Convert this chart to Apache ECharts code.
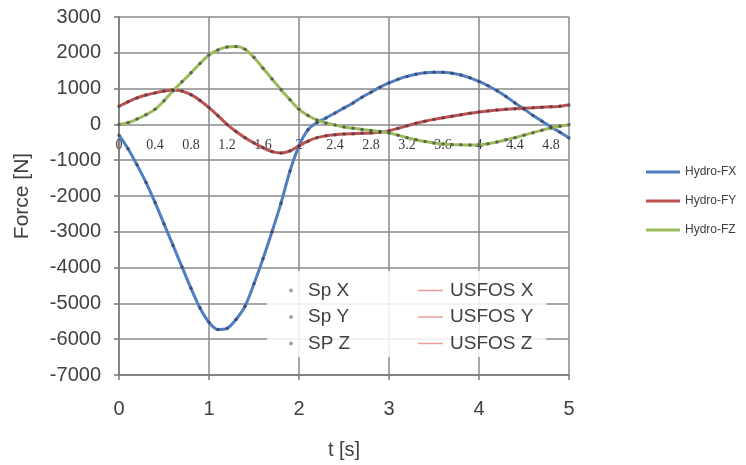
<!DOCTYPE html>
<html>
<head>
<meta charset="utf-8">
<script src="https://cdn.jsdelivr.net/npm/echarts@6/dist/echarts.min.js"></script>
<style>
  html, body { margin: 0; padding: 0; background: #ffffff; }
  #chart { width: 746px; height: 465px; }
</style>
</head>
<body>
<div id="chart"></div>
<script>
// Time samples [s]
const times = [
  0.0, 0.1, 0.2, 0.3, 0.4, 0.5, 0.6, 0.7, 0.8, 0.9,
  1.0, 1.1, 1.2, 1.3, 1.4, 1.5, 1.6, 1.7, 1.8, 1.9,
  2.0, 2.1, 2.2, 2.3, 2.4, 2.5, 2.6, 2.7, 2.8, 2.9,
  3.0, 3.1, 3.2, 3.3, 3.4, 3.5, 3.6, 3.7, 3.8, 3.9,
  4.0, 4.1, 4.2, 4.3, 4.4, 4.5, 4.6, 4.7, 4.8, 4.9,
  5.0
];

// Hydrodynamic force components [N]
const hydroFX = [
  -300, -680, -1130, -1620, -2180, -2780, -3380, -3980, -4580, -5130,
  -5530, -5730, -5700, -5450, -5080, -4450, -3750, -3000, -2200, -1300,
  -600, -150, 50, 180, 320, 460, 600, 760, 900, 1040,
  1160, 1260, 1340, 1400, 1440, 1460, 1460, 1430, 1380, 1300,
  1200, 1080, 940, 780, 600, 430, 250, 90, -70, -220,
  -380
];
const hydroFY = [
  510, 630, 740, 820, 880, 930, 960, 930, 830, 670,
  470, 240, 0, -200, -370, -520, -650, -760, -800, -740,
  -600, -470, -370, -320, -290, -270, -260, -250, -240, -220,
  -180, -110, -40, 30, 90, 140, 185, 230, 270, 310,
  345, 375, 400, 420, 435, 450, 465, 480, 490, 510,
  540
];
const hydroFZ = [
  0, 50, 150, 270, 420, 660, 940, 1190, 1440, 1700,
  1940, 2080, 2160, 2175, 2100, 1870, 1570, 1270, 970, 690,
  420, 250, 120, 40, -20, -70, -110, -140, -170, -200,
  -240, -300, -370, -430, -480, -520, -545, -560, -570, -575,
  -570, -540, -490, -430, -370, -300, -230, -160, -100, -50,
  -10
];

// Axis settings
const forceMin = -7000, forceMax = 3000, forceStep = 1000;
const timeMin = 0, timeMax = 5, timeStep = 1, timeStepFine = 0.4;

const seriesNamesHydro = ['Hydro-FX', 'Hydro-FY', 'Hydro-FZ'];
const seriesNamesSp = ['Sp X', 'Sp Y', 'SP Z'];
const seriesNamesUsfos = ['USFOS X', 'USFOS Y', 'USFOS Z'];
const hydroColors = ['#4f7fc0', '#c0504d', '#9bbb59'];

const pairs = vals => vals.map((v, i) => [times[i], v]);
const hydroData = [hydroFX, hydroFY, hydroFZ];

const FONT = 'Liberation Sans, Arial, sans-serif';
const gridColor = '#8a8a8a';

// Plot rectangle
const gridLeft = 119, gridTop = 17, gridW = 450, gridH = 360;
// Shift of the fine time axis from the bottom edge up to the zero force line
const zeroLineShift = -gridH * (0 - forceMin) / (forceMax - forceMin);

const series = [];
// USFOS reference curves (thin, underneath)
seriesNamesUsfos.forEach((name, k) => {
  series.push({
    name, type: 'line', xAxisIndex: 0, yAxisIndex: 0,
    data: pairs(hydroData[k]), symbol: 'none', smooth: 0.3,
    lineStyle: { color: '#f19c9c', width: 1 }, itemStyle: { color: '#f19c9c' },
    z: 2, animation: false
  });
});
// Hydro curves
seriesNamesHydro.forEach((name, k) => {
  series.push({
    name, type: 'line', xAxisIndex: 0, yAxisIndex: 0,
    data: pairs(hydroData[k]), symbol: 'none', smooth: 0.3,
    lineStyle: { color: hydroColors[k], width: 3 }, itemStyle: { color: hydroColors[k] },
    z: 3, animation: false
  });
});
// Sp point markers
seriesNamesSp.forEach((name, k) => {
  series.push({
    name, type: 'scatter', xAxisIndex: 0, yAxisIndex: 0,
    data: pairs(hydroData[k]), symbol: 'circle', symbolSize: 3.5,
    itemStyle: { color: 'rgba(50,50,75,0.8)' },
    z: 4, animation: false
  });
});

const chart = echarts.init(document.getElementById('chart'), null, { renderer: 'canvas' });
chart.setOption({
  backgroundColor: '#ffffff',
  animation: false,
  grid: { left: gridLeft, top: gridTop, width: gridW, height: gridH, containLabel: false },
  xAxis: [
    {
      type: 'value', min: timeMin, max: timeMax, interval: timeStep, position: 'bottom',
      name: 't [s]', nameLocation: 'middle', nameGap: 65,
      nameTextStyle: { fontFamily: FONT, fontSize: 20, color: '#404040' },
      axisLine: { onZero: false, lineStyle: { color: '#7a7a7a', width: 1.5 } },
      axisTick: { show: true, length: 5, lineStyle: { color: '#7a7a7a', width: 1.5 } },
      axisLabel: { fontFamily: FONT, fontSize: 20, color: '#404040', margin: 24 },
      splitLine: { show: true, lineStyle: { color: gridColor, width: 1.5 } }
    },
    {
      type: 'value', min: timeMin, max: timeMax, interval: timeStepFine, position: 'bottom',
      offset: zeroLineShift,
      axisLine: { show: false, onZero: false },
      axisTick: { show: false },
      axisLabel: {
        fontFamily: 'Liberation Serif, serif', fontSize: 14, color: '#3a3a3a', margin: 15,
        showMaxLabel: false,
        formatter: v => String(Math.round(v * 10) / 10)
      },
      splitLine: { show: false }
    }
  ],
  yAxis: {
    type: 'value', min: forceMin, max: forceMax, interval: forceStep,
    name: 'Force [N]', nameLocation: 'middle', nameGap: 86, nameRotate: 90,
    nameTextStyle: { fontFamily: FONT, fontSize: 21, color: '#404040' },
    axisLine: { show: true, onZero: false, lineStyle: { color: '#7a7a7a', width: 1.5 } },
    axisTick: { show: true, length: 5, lineStyle: { color: '#7a7a7a', width: 1.5 } },
    axisLabel: { fontFamily: FONT, fontSize: 20, color: '#404040', margin: 18, formatter: v => String(v) },
    splitLine: { show: true, lineStyle: { color: gridColor, width: 1.5 } }
  },
  legend: [
    {
      // Sp markers column, its padded box forms the white panel
      orient: 'vertical', left: 267, top: 271,
      padding: [10, 196, 4, 22], itemGap: 7.5,
      backgroundColor: 'rgba(255,255,255,0.85)',
      itemWidth: 4, itemHeight: 4, icon: 'circle',
      textStyle: { fontFamily: FONT, fontSize: 19, lineHeight: 19, color: '#404040', padding: [0, 0, 0, 10] },
      data: seriesNamesSp.map(n => ({ name: n, itemStyle: { color: '#8a8a8a' } })),
      selectedMode: false, z: 5
    },
    {
      // USFOS column
      orient: 'vertical', left: 418, top: 281,
      padding: 0, itemGap: 7.5,
      itemWidth: 25, itemHeight: 1.5, icon: 'rect',
      textStyle: { fontFamily: FONT, fontSize: 19, lineHeight: 19, color: '#404040', padding: [0, 0, 0, 2] },
      data: seriesNamesUsfos.map(n => ({ name: n, itemStyle: { color: '#f19c9c' } })),
      selectedMode: false, z: 6
    },
    {
      // Hydro curves, right side
      orient: 'vertical', left: 646, top: 166,
      padding: 0, itemGap: 17,
      itemWidth: 34, itemHeight: 3, icon: 'rect',
      textStyle: { fontFamily: FONT, fontSize: 12, lineHeight: 12, color: '#404040' },
      data: seriesNamesHydro.map((n, k) => ({ name: n, itemStyle: { color: hydroColors[k] } })),
      selectedMode: false
    }
  ],
  series
});
</script>
</body>
</html>
